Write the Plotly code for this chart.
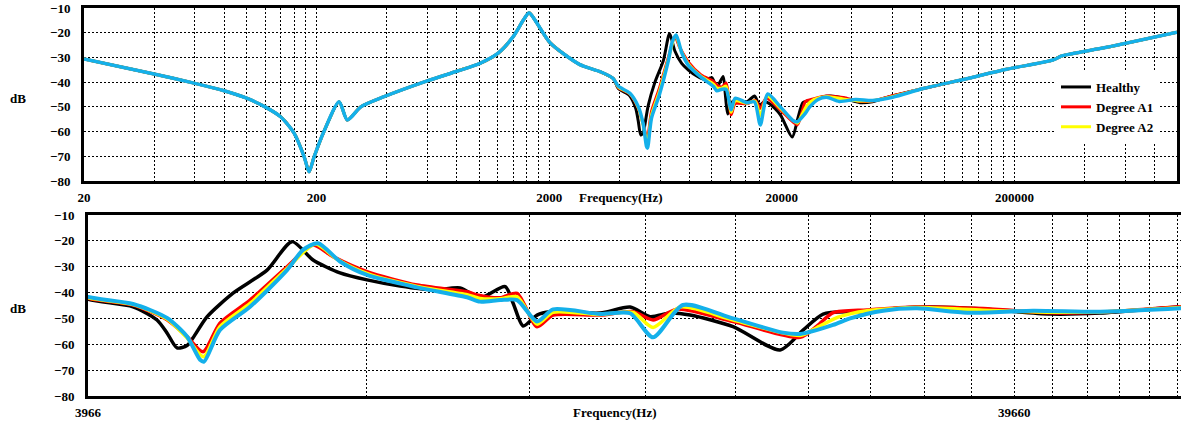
import numpy as np
import plotly.graph_objects as go

# ---------------- data ----------------
# common low-frequency band (Hz, dB)
freq_low = [20, 40, 60, 80, 100, 120, 140, 160, 177, 185.6, 195, 215, 250, 271, 310,
            390, 602, 808, 1008, 1206, 1400, 1548, 1638, 1738, 2014, 2696, 3320, 3768]
db_low = [-30.6, -36.7, -40.5, -43.5, -46.5, -50.0, -54.0, -60.6, -70.3, -76.3, -70.3,
          -60.0, -47.9, -55.3, -50.0, -45.9, -39.4, -35.5, -32.4, -28.3, -21.6, -14.9,
          -11.9, -14.9, -24.0, -32.8, -35.8, -38.5]

# common high-frequency band
freq_high = [81100, 124700, 185300, 293900, 319200, 498800, 1000000]
db_high = [-42.6, -38.6, -34.8, -31.0, -29.4, -25.9, -19.8]

# mid band, per series
freq_healthy = [3966, 4436, 4708, 4827, 4949, 5073, 5150, 5331, 5688, 6190, 6586, 6940,
                7421, 7936, 8617, 9354, 10003, 10511, 11188, 11410, 11700, 12112, 12510,
                14168, 15265, 16042, 16859, 17720, 19720, 22163, 23465, 24665, 26378,
                27519, 29872, 32431, 36722, 43376, 49106, 59935]
db_healthy = [-42.6, -45.5, -50.6, -55.6, -61.4, -60.5, -57.5, -49.4, -40.2, -31.3, -20.3,
              -27.4, -32.4, -35.1, -37.5, -39.0, -38.2, -42.0, -37.7, -44.0, -52.9, -48.7,
              -47.4, -47.9, -45.6, -49.3, -47.9, -48.7, -53.2, -62.2, -54.5, -48.3, -47.4,
              -47.4, -46.0, -45.6, -46.4, -48.3, -47.9, -45.5]

freq_a1 = [3966, 4436, 4827, 5073, 5279, 5506, 5934, 6505, 6940, 7293, 7936, 8990, 10177,
           10434, 11049, 11525, 12112, 12604, 14168, 15381, 16162, 17156, 19720, 23293,
           24302, 25286, 27519, 31160, 36722, 43376, 49106, 59935]
db_a1 = [-42.2, -44.8, -50.5, -57.0, -62.9, -51.8, -42.9, -30.0, -21.6, -26.1, -31.9, -37.1,
         -39.7, -40.9, -42.0, -40.3, -53.2, -48.7, -48.7, -47.4, -50.6, -46.4, -51.2, -57.3,
         -52.9, -47.8, -46.7, -45.6, -46.2, -47.8, -47.6, -45.5]

freq_a2 = [3966, 4436, 4827, 5073, 5285, 5506, 5934, 6505, 6980, 7360, 7936, 8990, 10177,
           10511, 11049, 11525, 12112, 12604, 14168, 15381, 16162, 17300, 19720, 23293,
           24302, 25600, 27519, 31160, 36722, 43376, 49106, 59935]
db_a2 = [-42.0, -44.6, -50.2, -57.5, -64.8, -53.2, -44.2, -30.7, -21.2, -27.0, -32.6, -37.6,
         -40.8, -42.3, -42.4, -41.6, -52.2, -47.6, -48.5, -47.7, -53.5, -45.6, -50.6, -56.6,
         -53.5, -49.5, -47.0, -45.8, -46.8, -47.6, -47.5, -45.8]

freq_a3 = [3966, 4436, 4827, 5073, 5240, 5292, 5506, 5934, 6505, 6769, 7027, 7421, 7936,
           8990, 10177, 10511, 11049, 11525, 12112, 12604, 14168, 15265, 16162, 17410,
           19720, 22328, 23293, 25286, 26378, 28634, 31160, 35291, 41577, 49106, 59935]
db_a3 = [-41.7, -44.4, -49.8, -57.0, -66.0, -66.7, -54.5, -45.5, -31.3, -23.5, -20.9, -28.0,
         -33.2, -38.0, -41.8, -43.5, -42.9, -42.9, -51.2, -46.5, -48.3, -48.0, -57.3, -44.8,
         -50.0, -55.5, -56.0, -52.5, -50.0, -47.0, -46.1, -47.8, -47.0, -47.4, -46.1]

series_names = ["Healthy", "Degree A1", "Degree A2", ""]
series_colors = ["#000000", "#FF0000", "#FFFF00", "#14B0EA"]
series_mid = [(freq_healthy, db_healthy), (freq_a1, db_a1), (freq_a2, db_a2), (freq_a3, db_a3)]

top_labels = {20: "20", 200: "200", 2000: "2000", 20000: "20000", 200000: "200000"}
bottom_base = 3966
bottom_labels = {3966: "3966", 39660: "39660"}

# ---------------- figure ----------------
W, H = 1181, 421
FONT = "Liberation Serif, Times New Roman, serif"
fig = go.Figure()

for i, (name, color, (fm, dm)) in enumerate(zip(series_names, series_colors, series_mid)):
    fx = freq_low + fm + freq_high
    fy = db_low + dm + db_high
    wid = 3.5 if i == 3 else 3
    fig.add_trace(go.Scatter(x=fx, y=fy, mode="lines", name=name,
                             line=dict(color=color, width=wid, shape="spline", smoothing=0.7),
                             showlegend=(i < 3), xaxis="x", yaxis="y"))
for i, (name, color, (fm, dm)) in enumerate(zip(series_names, series_colors, series_mid)):
    fx = freq_low + fm + freq_high
    fy = db_low + dm + db_high
    wid = 4 if i == 3 else 3.5
    fig.add_trace(go.Scatter(x=fx, y=fy, mode="lines", name=name,
                             line=dict(color=color, width=wid, shape="spline", smoothing=0.7),
                             showlegend=False, xaxis="x2", yaxis="y2"))

# gridline positions
top_vals = []
for dec in [20, 200, 2000, 20000, 200000]:
    for k in range(1, 10):
        top_vals.append(dec * k)
top_vals.append(1000000)
top_text = [top_labels.get(v, "") for v in top_vals]

bot_vals = [bottom_base * k for k in range(1, 16)]
bot_text = [bottom_labels.get(v, "") for v in bot_vals]

tickfont = dict(family=FONT, size=13, color="black", weight="bold")
common_axis = dict(showgrid=True, gridcolor="#000000", gridwidth=1, griddash="2px,2px",
                   showline=True, linecolor="black", linewidth=3, ticks="",
                   tickfont=tickfont, zeroline=False, automargin=False)

fig.update_layout(
    width=W, height=H, margin=dict(l=0, r=0, t=0, b=0),
    paper_bgcolor="white", plot_bgcolor="white",
    xaxis=dict(type="log", range=[np.log10(20), 6], domain=[84 / W, 1177 / W], anchor="y",
               tickmode="array", tickvals=top_vals, ticktext=top_text, mirror=True,
               ticklabelstandoff=2, **common_axis),
    yaxis=dict(range=[-80, -10], domain=[240 / H, 413 / H], anchor="x",
               tickmode="array", tickvals=list(range(-80, 0, 10)), mirror=True,
               ticklabelstandoff=8, **common_axis),
    xaxis2=dict(type="log", range=[np.log10(3966), np.log10(60050)], domain=[88 / W, 1.0],
                anchor="y2", tickmode="array", tickvals=bot_vals, ticktext=bot_text,
                mirror=True, ticklabelstandoff=2, **common_axis),
    yaxis2=dict(range=[-80, -10], domain=[25 / H, 206 / H], anchor="x2",
                tickmode="array", tickvals=list(range(-80, 0, 10)), mirror=False,
                ticklabelstandoff=8, **common_axis),
    legend=dict(x=1056 / W, y=(H - 72) / H, xanchor="left", yanchor="top",
                bgcolor="white", borderwidth=0, tracegroupgap=0,
                font=dict(family=FONT, size=13, color="black", weight="bold")),
    showlegend=True,
)

ann_font = dict(family=FONT, size=13, color="black", weight="bold")
for (x, y, t) in [(18, 98, "dB"), (18, 308, "dB"), (621, 197, "Frequency(Hz)"),
                  (615, 412, "Frequency(Hz)")]:
    fig.add_annotation(x=x / W, y=(H - y) / H, xref="paper", yref="paper", text=t,
                       showarrow=False, font=ann_font, xanchor="center", yanchor="middle")

fig.write_html("out.html")
